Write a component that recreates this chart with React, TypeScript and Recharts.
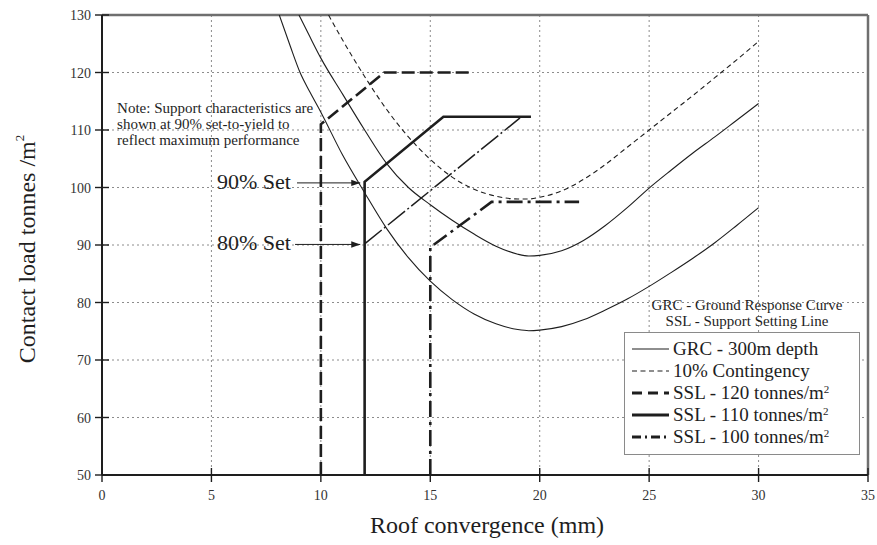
import React from 'react';
import {
  ComposedChart,
  Line,
  XAxis,
  YAxis,
  CartesianGrid,
  ReferenceLine,
  ReferenceDot,
  Legend,
} from 'recharts';

const FONT = '"Liberation Serif", "Times New Roman", serif';
const INK = '#1e1e1e';

const xTicks = [0, 5, 10, 15, 20, 25, 30, 35];
const yTicks = [50, 60, 70, 80, 90, 100, 110, 120, 130];

// GRC - 300m depth (lower solid curve)
const grc300 = [
  { x: 8.1, y: 130 }, { x: 8.6, y: 124.6 }, { x: 9.05, y: 120 }, { x: 9.5, y: 116.6 },
  { x: 10, y: 113.1 }, { x: 11, y: 105.6 }, { x: 12, y: 99.1 }, { x: 13, y: 92.9 },
  { x: 14, y: 87.8 }, { x: 15, y: 83.7 }, { x: 16, y: 80.5 }, { x: 17, y: 78.0 },
  { x: 18, y: 76.3 }, { x: 19, y: 75.3 }, { x: 19.5, y: 75.1 }, { x: 20, y: 75.2 },
  { x: 21, y: 75.8 }, { x: 22, y: 77.0 }, { x: 23, y: 78.7 }, { x: 24, y: 80.6 },
  { x: 25, y: 82.8 }, { x: 26, y: 85.2 }, { x: 27, y: 87.7 }, { x: 28, y: 90.4 },
  { x: 29, y: 93.4 }, { x: 30, y: 96.5 },
];

// second solid ground response curve
const grcUpper = [
  { x: 9.0, y: 130 }, { x: 9.5, y: 126.2 }, { x: 10, y: 122.5 }, { x: 11, y: 116.2 },
  { x: 12, y: 110 }, { x: 13, y: 104.2 }, { x: 14, y: 100.0 }, { x: 15, y: 97.0 },
  { x: 16, y: 94.3 }, { x: 17, y: 91.9 }, { x: 18, y: 89.8 }, { x: 19, y: 88.4 },
  { x: 19.5, y: 88.1 }, { x: 20, y: 88.2 }, { x: 21, y: 89.0 }, { x: 22, y: 90.8 },
  { x: 23, y: 93.4 }, { x: 24, y: 96.5 }, { x: 25, y: 99.9 }, { x: 26, y: 103.0 },
  { x: 27, y: 106.0 }, { x: 28, y: 108.8 }, { x: 29, y: 111.7 }, { x: 30, y: 114.6 },
];

// 10% Contingency (dashed)
const contingency = [
  { x: 10.35, y: 130 }, { x: 11, y: 125.6 }, { x: 12, y: 119.3 }, { x: 13, y: 113.6 },
  { x: 14, y: 108.8 }, { x: 15, y: 104.9 }, { x: 16, y: 101.8 }, { x: 17, y: 99.7 },
  { x: 18, y: 98.5 }, { x: 19, y: 98.0 }, { x: 19.5, y: 98.0 }, { x: 20, y: 98.3 },
  { x: 21, y: 99.4 }, { x: 22, y: 101.4 }, { x: 23, y: 104.0 }, { x: 24, y: 107.0 },
  { x: 25, y: 110.0 }, { x: 26, y: 113.0 }, { x: 27, y: 116.0 }, { x: 28, y: 119.1 },
  { x: 29, y: 122.2 }, { x: 30, y: 125.4 },
];

const ssl120 = [{ x: 10, y: 50 }, { x: 10, y: 111 }, { x: 12.9, y: 120 }, { x: 16.9, y: 120 }];
const ssl110 = [{ x: 12, y: 50 }, { x: 12, y: 101 }, { x: 15.6, y: 112.3 }, { x: 19.6, y: 112.3 }];
const set80 = [{ x: 12, y: 90.2 }, { x: 19.1, y: 112.1 }];
const ssl100 = [{ x: 15, y: 50 }, { x: 15, y: 89.6 }, { x: 17.8, y: 97.5 }, { x: 21.8, y: 97.5 }];

const arrow90 = [{ x: 8.91, y: 100.8 }, { x: 11.8, y: 100.8 }];
const arrow80 = [{ x: 8.82, y: 90.1 }, { x: 11.8, y: 90.1 }];

const noteLines = [
  'Note: Support characteristics are',
  'shown at 90% set-to-yield to',
  'reflect maximum performance',
];
const notePos = { x: 0.69, y: 112.87 };
const set90Label = { text: '90% Set', x: 5.25, y: 99.8 };
const set80Label = { text: '80% Set', x: 5.25, y: 89.13 };

const legendNotes = ['GRC - Ground Response Curve', 'SSL - Support Setting Line'];
const legendItems = [
  { label: 'GRC - 300m depth', sup: '', dash: '', width: 1.1 },
  { label: '10% Contingency', sup: '', dash: '5 3.5', width: 1.1 },
  { label: 'SSL - 120 tonnes/m', sup: '2', dash: '10 6', width: 3 },
  { label: 'SSL - 110 tonnes/m', sup: '2', dash: '', width: 3 },
  { label: 'SSL - 100 tonnes/m', sup: '2', dash: '9 4 2 4', width: 3 },
];

const XTick = (props: any) => {
  const { x, y, payload } = props;
  return (
    <g>
      <line x1={x} x2={x} y1={y - 7} y2={y + 7} stroke={INK} strokeWidth={1.4} />
      <text x={x} y={y + 25} textAnchor="middle" fontSize={14} fill="#333" fontFamily={FONT}>
        {payload.value}
      </text>
    </g>
  );
};

const YTick = (props: any) => {
  const { x, y, payload } = props;
  return (
    <g>
      <line x1={x - 7} x2={x + 7} y1={y} y2={y} stroke={INK} strokeWidth={1.4} />
      <text x={x - 11} y={y + 5} textAnchor="end" fontSize={14} fill="#333" fontFamily={FONT}>
        {payload.value}
      </text>
    </g>
  );
};

const XLabel = (props: any) => {
  const vb = props.viewBox || {};
  const cx = vb.x + vb.width / 2 + 2;
  const cy = vb.y + 58;
  return (
    <text x={cx} y={cy} textAnchor="middle" fontSize={24} fill={INK} fontFamily={FONT}>
      Roof convergence (mm)
    </text>
  );
};

const YLabel = (props: any) => {
  const vb = props.viewBox || {};
  const cx = vb.x + 27;
  const cy = vb.y + vb.height / 2 + 4;
  return (
    <text
      x={cx}
      y={cy}
      transform={`rotate(-90 ${cx} ${cy})`}
      textAnchor="middle"
      fontSize={24}
      fill={INK}
      fontFamily={FONT}
    >
      Contact load tonnes /m
      <tspan dy={-11} fontSize={13}>2</tspan>
    </text>
  );
};

const textShape = (lines: string[], fontSize: number, lineHeight: number) => (p: any) => (
  <text x={p.cx} y={p.cy} fontSize={fontSize} fill={INK} fontFamily={FONT}>
    {lines.map((l, i) => (
      <tspan key={i} x={p.cx} dy={i === 0 ? 0 : lineHeight}>
        {l}
      </tspan>
    ))}
  </text>
);

const arrowDot = (p: any) =>
  p.index === 1 ? (
    <path key={`ah-${p.index}`} d={`M${p.cx},${p.cy} l-9,-3.2 l0,6.4 z`} fill={INK} />
  ) : (
    <g key={`ah-${p.index}`} />
  );

const LegendBox = () => (
  <div style={{ fontFamily: FONT, color: INK }}>
    <div style={{ paddingLeft: 10, textAlign: 'center', fontSize: 15, lineHeight: '16px' }}>
      {legendNotes.map((t, i) => (
        <div key={i}>{t}</div>
      ))}
    </div>
    <div
      style={{
        marginTop: 3,
        border: '1px solid #8a8a8a',
        background: '#fff',
        boxSizing: 'border-box',
        height: 123,
        paddingTop: 5,
      }}
    >
      {legendItems.map((it, i) => (
        <div
          key={i}
          style={{ display: 'flex', alignItems: 'center', height: 22, fontSize: 19, lineHeight: '22px' }}
        >
          <svg width={44} height={22} style={{ display: 'block', flex: 'none' }}>
            <line
              x1={7}
              x2={44}
              y1={11}
              y2={11}
              stroke={INK}
              strokeWidth={it.width}
              strokeDasharray={it.dash || undefined}
            />
          </svg>
          <span style={{ marginLeft: 4, whiteSpace: 'nowrap' }}>
            {it.label}
            {it.sup ? (
              <span style={{ fontSize: 11, verticalAlign: 'top', lineHeight: '14px' }}>{it.sup}</span>
            ) : null}
          </span>
        </div>
      ))}
    </div>
  </div>
);

export default function App() {
  return (
    <div
      style={{
        width: 877,
        height: 545,
        boxSizing: 'border-box',
        paddingLeft: 8,
        paddingTop: 8,
        background: '#fff',
        overflow: 'hidden',
      }}
    >
      <style>{'html,body{margin:0;padding:0;overflow:hidden;}'}</style>
      <ComposedChart
        width={869}
        height={535}
        margin={{ top: 7, right: 9, bottom: 0, left: 0 }}
      >
        <CartesianGrid strokeDasharray="2 3" stroke="#8c8c8c" strokeWidth={1} />
        <XAxis
          dataKey="x"
          type="number"
          domain={[0, 35]}
          ticks={xTicks}
          interval={0}
          allowDataOverflow
          height={68}
          tickSize={0}
          tickMargin={0}
          tickLine={false}
          axisLine={{ stroke: INK, strokeWidth: 2 }}
          tick={XTick}
          label={{ content: XLabel }}
        />
        <YAxis
          type="number"
          domain={[50, 130]}
          ticks={yTicks}
          interval={0}
          allowDataOverflow
          width={94}
          tickSize={0}
          tickMargin={0}
          tickLine={false}
          axisLine={{ stroke: INK, strokeWidth: 2 }}
          tick={YTick}
          label={{ content: YLabel }}
        />
        <ReferenceLine y={130} stroke="#6f6f6f" strokeWidth={2.5} />
        <ReferenceLine x={35} stroke="#6f6f6f" strokeWidth={2.5} />

        <Line data={grc300} dataKey="y" type="monotone" stroke={INK} strokeWidth={1.1} dot={false} activeDot={false} isAnimationActive={false} legendType="none" />
        <Line data={grcUpper} dataKey="y" type="monotone" stroke={INK} strokeWidth={1.1} dot={false} activeDot={false} isAnimationActive={false} legendType="none" />
        <Line data={contingency} dataKey="y" type="monotone" stroke={INK} strokeWidth={1.1} strokeDasharray="5 3.5" dot={false} activeDot={false} isAnimationActive={false} legendType="none" />
        <Line data={ssl120} dataKey="y" type="linear" stroke={INK} strokeWidth={2.6} strokeDasharray="13 5" dot={false} activeDot={false} isAnimationActive={false} legendType="none" />
        <Line data={ssl110} dataKey="y" type="linear" stroke={INK} strokeWidth={2.6} dot={false} activeDot={false} isAnimationActive={false} legendType="none" />
        <Line data={set80} dataKey="y" type="linear" stroke={INK} strokeWidth={1.5} strokeDasharray="22 3 2 3" dot={false} activeDot={false} isAnimationActive={false} legendType="none" />
        <Line data={ssl100} dataKey="y" type="linear" stroke={INK} strokeWidth={2.6} strokeDasharray="16 5 3 5" dot={false} activeDot={false} isAnimationActive={false} legendType="none" />
        <Line data={arrow90} dataKey="y" type="linear" stroke={INK} strokeWidth={1} dot={arrowDot} activeDot={false} isAnimationActive={false} legendType="none" />
        <Line data={arrow80} dataKey="y" type="linear" stroke={INK} strokeWidth={1} dot={arrowDot} activeDot={false} isAnimationActive={false} legendType="none" />

        <ReferenceDot x={notePos.x} y={notePos.y} r={0} shape={textShape(noteLines, 15, 16)} />
        <ReferenceDot x={set90Label.x} y={set90Label.y} r={0} shape={textShape([set90Label.text], 22, 22)} />
        <ReferenceDot x={set80Label.x} y={set80Label.y} r={0} shape={textShape([set80Label.text], 22, 22)} />

        <Legend
          layout="vertical"
          align="center"
          verticalAlign="middle"
          content={LegendBox}
          wrapperStyle={{ left: 616, top: 289, width: 236 }}
        />
      </ComposedChart>
    </div>
  );
}
